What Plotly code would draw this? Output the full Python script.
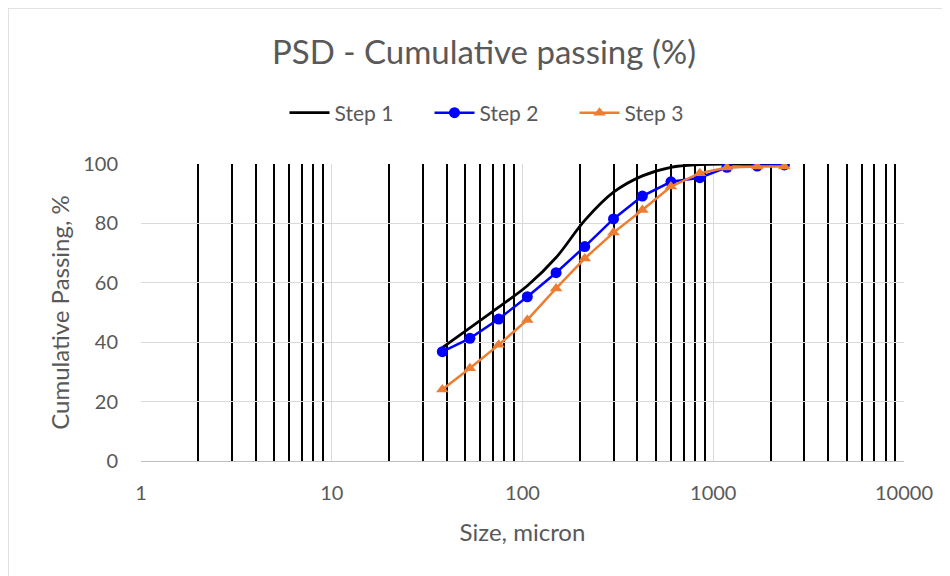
import plotly.graph_objects as go

sizes = [38, 53, 75, 106, 150, 212, 300, 425, 600, 850, 1180, 1700, 2360]
step1 = [38.2, 44.8, 51.8, 59.0, 68.5, 81.0, 90.5, 96.0, 98.9, 99.8, 100, 100, 100]
step2 = [36.8, 41.3, 47.8, 55.3, 63.4, 72.2, 81.5, 89.2, 94.0, 95.4, 98.9, 99.3, 99.7]
step3 = [24.1, 31.2, 39.1, 47.5, 58.1, 68.2, 76.9, 84.5, 92.4, 96.9, 98.8, 99.2, 99.2]

x_ticks = [1, 10, 100, 1000, 10000]
x_tick_labels = ["1", "10", "100", "1000", "10000"]
minor_vals = [m * d for d in [1, 10, 100, 1000] for m in range(2, 10)]

FONT = "Lato"
GREY = "#595959"

W, H = 950, 576
ML, MR, MT, MB = 133, 54, 156, 123
PW, PH = W - ML - MR, H - MT - MB

fig = go.Figure()
fig.add_trace(go.Scatter(x=sizes, y=step1, name="Step 1", mode="lines",
                         line=dict(color="black", width=2.8, shape="spline", smoothing=1)))
fig.add_trace(go.Scatter(x=sizes, y=step2, name="Step 2", mode="lines+markers",
                         line=dict(color="#0000FF", width=2.5),
                         marker=dict(symbol="circle", size=11, color="#0000FF")))
fig.add_trace(go.Scatter(x=sizes, y=step3, name="Step 3", mode="lines+markers",
                         line=dict(color="#ED7D31", width=2.5),
                         marker=dict(symbol="triangle-up", size=11, color="#ED7D31")))

fig.update_layout(
    width=W, height=H,
    margin=dict(l=ML, r=MR, t=MT, b=MB),
    paper_bgcolor="white", plot_bgcolor="white",
    font=dict(family=FONT, color=GREY, size=20),
    title=dict(text="PSD - Cumulative passing (%)", x=(484 - 8) / W, xanchor="center",
               y=1 - 44 / H, yanchor="middle",
               font=dict(family=FONT, size=33, color=GREY)),
    legend=dict(orientation="h", x=(494 - ML) / PW, xanchor="center", y=1 + (MT - 105) / PH,
                yanchor="middle", font=dict(family=FONT, size=21, color=GREY),
                entrywidth=90, entrywidthmode="pixels",
                itemwidth=40, tracegroupgap=0),
    showlegend=True,
)
fig.update_xaxes(
    type="log", range=[0, 4],
    tickmode="array", tickvals=x_ticks, ticktext=x_tick_labels,
    showgrid=True, gridcolor="#D9D9D9", gridwidth=1,
    minor=dict(tickmode="array", tickvals=minor_vals, showgrid=True,
               gridcolor="black", gridwidth=1.6, ticks=""),
    ticks="outside", ticklen=14, tickcolor="rgba(0,0,0,0)",
    showline=True, linecolor="#BFBFBF", linewidth=1,
    tickfont=dict(family=FONT, size=20, color=GREY),
    title=dict(text="Size, micron", font=dict(family=FONT, size=24, color=GREY), standoff=21),
    zeroline=False,
)
fig.update_yaxes(
    range=[0, 100], tickvals=[0, 20, 40, 60, 80, 100],
    showgrid=True, gridcolor="#D9D9D9", gridwidth=1,
    ticks="outside", ticklen=18, tickcolor="rgba(0,0,0,0)",
    showline=False, zeroline=False,
    tickfont=dict(family=FONT, size=20, color=GREY),
    title=dict(text="Cumulative Passing, %", font=dict(family=FONT, size=24, color=GREY), standoff=6),
)
# outer chart border (top/left visible)
fig.add_shape(type="rect", xref="paper", yref="paper",
              x0=(0 - ML) / PW, x1=(W + 20 - ML) / PW,
              y0=-(MB + 20) / PH, y1=1 + MT / PH,
              line=dict(color="#D9D9D9", width=1.5), fillcolor="rgba(0,0,0,0)", layer="below")

fig.write_html("out.html")
